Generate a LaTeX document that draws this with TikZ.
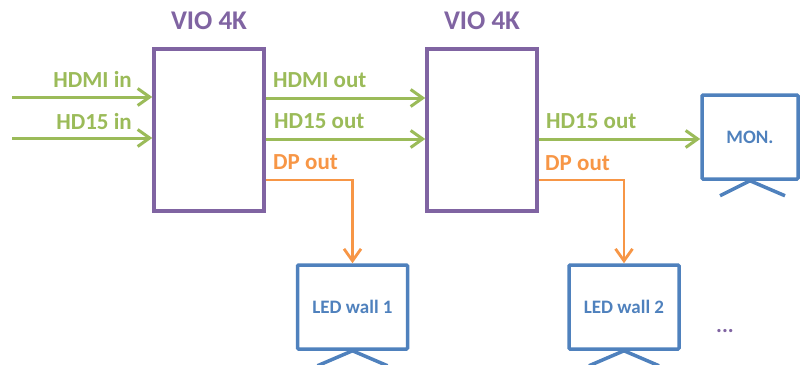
\documentclass[tikz,border=0pt]{standalone}
\usepackage{fontspec}
\setmainfont{Carlito}
\usetikzlibrary{arrows.meta,calc}
\definecolor{cgreen}{HTML}{9BBB59}
\definecolor{cpurple}{HTML}{8064A2}
\definecolor{corange}{HTML}{F79646}
\definecolor{cblue}{HTML}{4F81BD}
\begin{document}
\begin{tikzpicture}[x=1pt,y=-1pt,
  vio/.style={draw=cpurple,line width=3.5pt,minimum width=110pt,minimum height=162pt,inner sep=0pt},
  violabel/.style={text=cpurple,inner sep=0pt,font=\bfseries\fontsize{27}{30}\selectfont},
  screen/.style={draw=cblue,line width=3.5pt,rounded corners=1pt,inner sep=0pt,text=cblue,font=\bfseries\fontsize{#1}{22}\selectfont},
  leg/.style={draw=cblue,line width=3.5pt},
  garrow/.style={draw=cgreen,line width=3pt,-{Straight Barb[length=12pt,width=17pt,line width=3pt]}},
  oarrow/.style={draw=corange,line width=2.8pt,-{Straight Barb[length=12pt,width=17pt,line width=2.8pt]}},
  glabel/.style={text=cgreen,inner sep=0pt,font=\bfseries\fontsize{23}{26}\selectfont},
  olabel/.style={text=corange,inner sep=0pt,font=\bfseries\fontsize{23}{26}\selectfont}]
\useasboundingbox (0,0) rectangle (800,364);
% boxes
\node[vio] (b1) at (209,130) {};
\node[vio] (b2) at (482,130) {};
\node[violabel,anchor=base] (t1) at (209,29) {VIO 4K};
\node[violabel,anchor=base] (t2) at (482,29) {VIO 4K};
% screens
\node[screen=19,minimum width=110pt,minimum height=84pt] (led1) at (352.5,307) {LED wall 1};
\node[screen=19,minimum width=110pt,minimum height=84pt] (led2) at (624,307) {LED wall 2};
\node[screen=19,minimum width=96pt,minimum height=84pt] (mon) at (750,137) {MON.};
\draw[leg] (led1.south) -- ++(-35,15);
\draw[leg] (led1.south) -- ++(35,15);
\draw[leg] (led2.south) -- ++(-35,15);
\draw[leg] (led2.south) -- ++(35,15);
\draw[leg] (mon.south) -- ++(-30,15);
\draw[leg] (mon.south) -- ++(35,15);
% inputs
\coordinate (in1) at (12,97);
\coordinate (in2) at (12,138);
\draw[garrow] (in1) -- (in1 -| b1.west);
\draw[garrow] (in2) -- (in2 -| b1.west);
\node[glabel,anchor=base east] (l1) at (132,87) {HDMI in};
\node[glabel,anchor=base east] (l2) at (132,129) {HD15 in};
% box1 -> box2
\coordinate (o1) at (264,98);
\coordinate (o2) at (264,139);
\draw[garrow] (o1 -| b1.east) -- (o1 -| b2.west);
\draw[garrow] (o2 -| b1.east) -- (o2 -| b2.west);
\node[glabel,anchor=base west] (l3) at (273,87) {HDMI out};
\node[glabel,anchor=base west] (l4) at (274,128) {HD15 out};
% box2 -> mon
\coordinate (o3) at (537,139);
\draw[garrow] (o3 -| b2.east) -- (o3 -| mon.west);
\node[glabel,anchor=base west] (l5) at (546,128) {HD15 out};
% DP outs
\coordinate (d1) at (264,180);
\coordinate (d2) at (537,180);
\draw[oarrow] (d1 -| b1.east) -| (led1.north);
\draw[oarrow] (d2 -| b2.east) -| (led2.north);
\node[olabel,anchor=base west] (l6) at (273,169) {DP out};
\node[olabel,anchor=base west] (l7) at (545,170) {DP out};
\node[text=cpurple,font=\bfseries\fontsize{22}{24}\selectfont] (dots) at (725,331) {...};
\end{tikzpicture}
\end{document}
